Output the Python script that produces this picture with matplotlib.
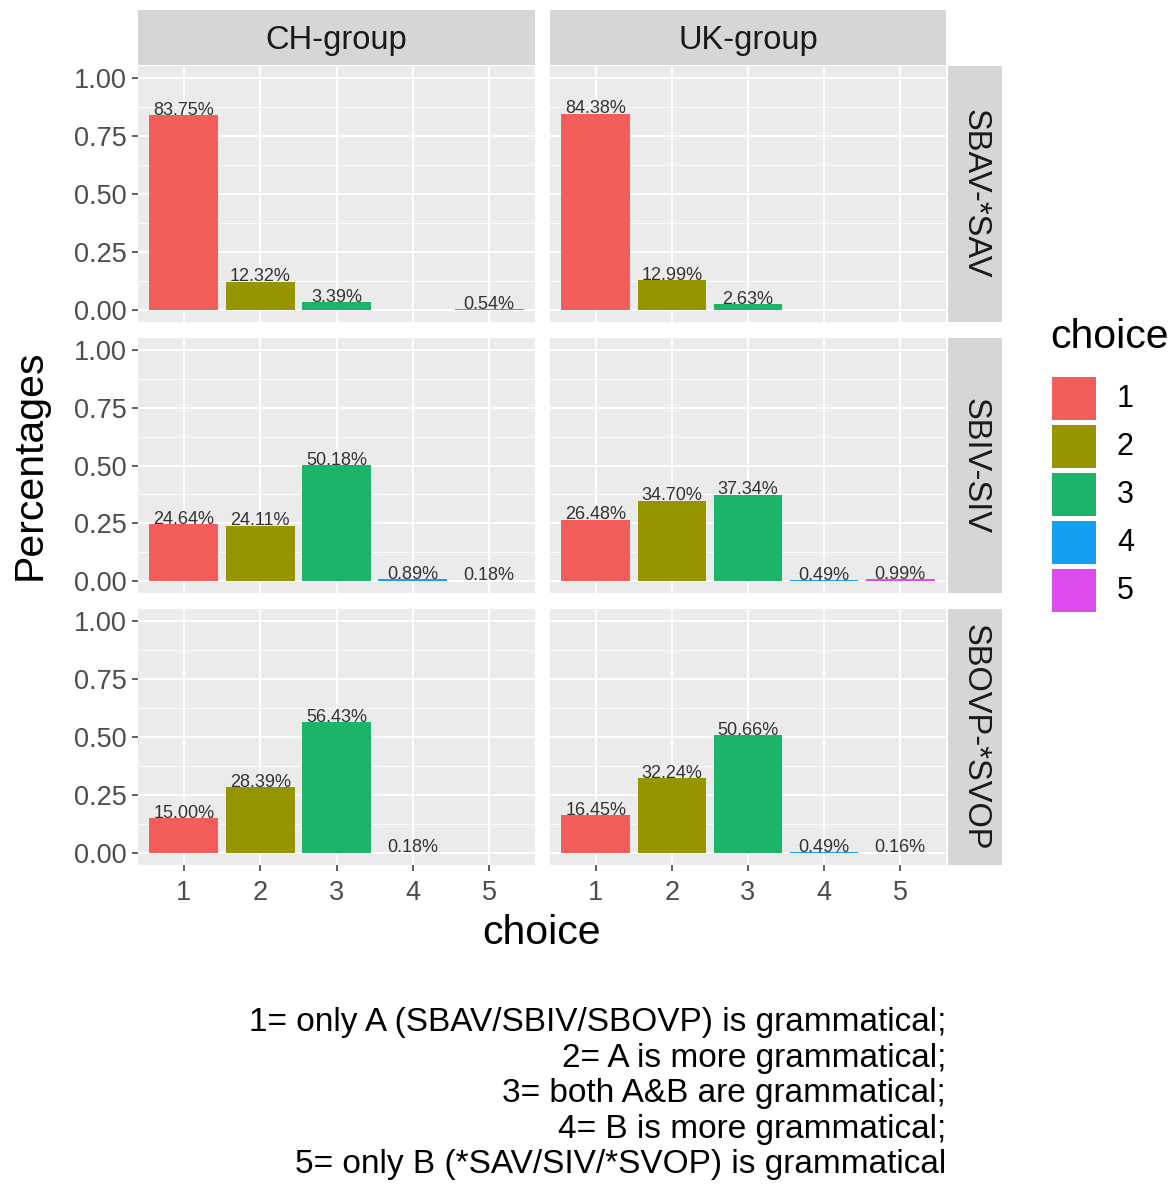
import numpy as np
import matplotlib
matplotlib.use("Agg")
import matplotlib.pyplot as plt
from matplotlib.patches import Rectangle

plt.rcParams['font.family'] = ['Liberation Sans', 'DejaVu Sans']

# data: percentage of each choice, nan = no responses
choices = [1, 2, 3, 4, 5]
groups = ["CH-group", "UK-group"]
conditions = ["SBAV-*SAV", "SBIV-SIV", "SBOVP-*SVOP"]

ch_sbav = [83.75, 12.32, 3.39, np.nan, 0.54]
uk_sbav = [84.38, 12.99, 2.63, np.nan, np.nan]
ch_sbiv = [24.64, 24.11, 50.18, 0.89, 0.18]
uk_sbiv = [26.48, 34.70, 37.34, 0.49, 0.99]
ch_sbovp = [15.00, 28.39, 56.43, 0.18, np.nan]
uk_sbovp = [16.45, 32.24, 50.66, 0.49, 0.16]

values = {
    ("CH-group", "SBAV-*SAV"): ch_sbav,
    ("UK-group", "SBAV-*SAV"): uk_sbav,
    ("CH-group", "SBIV-SIV"): ch_sbiv,
    ("UK-group", "SBIV-SIV"): uk_sbiv,
    ("CH-group", "SBOVP-*SVOP"): ch_sbovp,
    ("UK-group", "SBOVP-*SVOP"): uk_sbovp,
}

colors = ["#F35E5A", "#959500", "#1BB46A", "#159FF0", "#DD4BEE"]

caption = ("1= only A (SBAV/SBIV/SBOVP) is grammatical;\n"
           "2= A is more grammatical;\n"
           "3= both A&B are grammatical;\n"
           "4= B is more grammatical;\n"
           "5= only B (*SAV/SIV/*SVOP) is grammatical")

W, H = 1175, 1185
fig = plt.figure(figsize=(W / 100, H / 100), dpi=100)


def px_axes(x0, y0, x1, y1, **kw):
    # pixel box measured from top-left corner
    return fig.add_axes([x0 / W, 1 - y1 / H, (x1 - x0) / W, (y1 - y0) / H], **kw)


col_x = [(138, 535), (550, 946)]
row_y = [(66, 322), (338, 593), (609, 865)]
panel_bg = "#EBEBEB"
strip_bg = "#D6D6D6"
tick_col = "#4D4D4D"
text_col = "#333333"

for r, cond in enumerate(conditions):
    for c, grp in enumerate(groups):
        ax = px_axes(col_x[c][0], row_y[r][0], col_x[c][1], row_y[r][1])
        ax.set_facecolor(panel_bg)
        for s in ax.spines.values():
            s.set_visible(False)
        vals = np.array(values[(grp, cond)]) / 100
        ax.bar(choices, np.nan_to_num(vals), width=0.9, color=colors, zorder=3)
        for x, v in zip(choices, vals):
            if np.isnan(v):
                continue
            ax.annotate(f"{v * 100:.2f}%", (x, v), xytext=(0, -2.5),
                        textcoords="offset points", ha="center", va="bottom",
                        fontsize=13, color=text_col, zorder=4)
        ax.set_xlim(0.4, 5.6)
        ax.set_ylim(-0.05, 1.05)
        ax.set_xticks(choices)
        ax.set_yticks([0, 0.25, 0.5, 0.75, 1.0])
        ax.set_yticks([0.125, 0.375, 0.625, 0.875], minor=True)
        ax.grid(True, which="major", color="white", linewidth=1.3, zorder=0)
        ax.grid(True, which="minor", axis="y", color="white", linewidth=0.6, zorder=0)
        ax.set_axisbelow(True)
        ax.tick_params(which="minor", length=0)
        ax.tick_params(which="major", length=4, width=1.1, color="#333333",
                       labelsize=19.5, labelcolor=tick_col, pad=4)
        ax.tick_params(axis="x", pad=7)
        if c == 0:
            ax.set_yticklabels(["0.00", "0.25", "0.50", "0.75", "1.00"])
        else:
            ax.tick_params(axis="y", left=False, labelleft=False)
        if r != len(conditions) - 1:
            ax.tick_params(axis="x", bottom=False, labelbottom=False)

        if r == 0:
            st = px_axes(col_x[c][0], 10, col_x[c][1], 65)
            st.set_facecolor(strip_bg)
            st.set_xticks([])
            st.set_yticks([])
            for s in st.spines.values():
                s.set_visible(False)
            st.text(0.5, 0.44, grp, ha="center", va="center", fontsize=23.5,
                    color="#1A1A1A", transform=st.transAxes)

    st = px_axes(948, row_y[r][0], 1002, row_y[r][1])
    st.set_facecolor(strip_bg)
    st.set_xticks([])
    st.set_yticks([])
    for s in st.spines.values():
        s.set_visible(False)
    st.text(0.5, 0.5, cond, ha="center", va="center", rotation=270,
            fontsize=23.5, color="#1A1A1A", transform=st.transAxes)

# axis titles
fig.text(542 / W, 1 - 933 / H, "choice", ha="center", va="center", fontsize=29.5)
fig.text(30 / W, 1 - 465 / H, "Percentages", ha="center", va="center",
         rotation=90, fontsize=29.5)

# legend
fig.text(1050 / W, 1 - 337 / H, "choice", ha="left", va="center", fontsize=29.5)
for i, (ch, col) in enumerate(zip(choices, colors)):
    top = 377 + i * 48
    fig.patches.append(Rectangle((1052 / W, 1 - (top + 43) / H), 44 / W, 43 / H,
                                 transform=fig.transFigure, facecolor=col,
                                 edgecolor="none"))
    fig.text(1117 / W, 1 - (top + 22) / H, str(ch), ha="left", va="center",
             fontsize=22)

# caption
fig.text(946 / W, 1 - 1007 / H, caption, ha="right", va="top",
         multialignment="right", fontsize=24, linespacing=1.19)

fig.savefig("out.png", dpi=100)
